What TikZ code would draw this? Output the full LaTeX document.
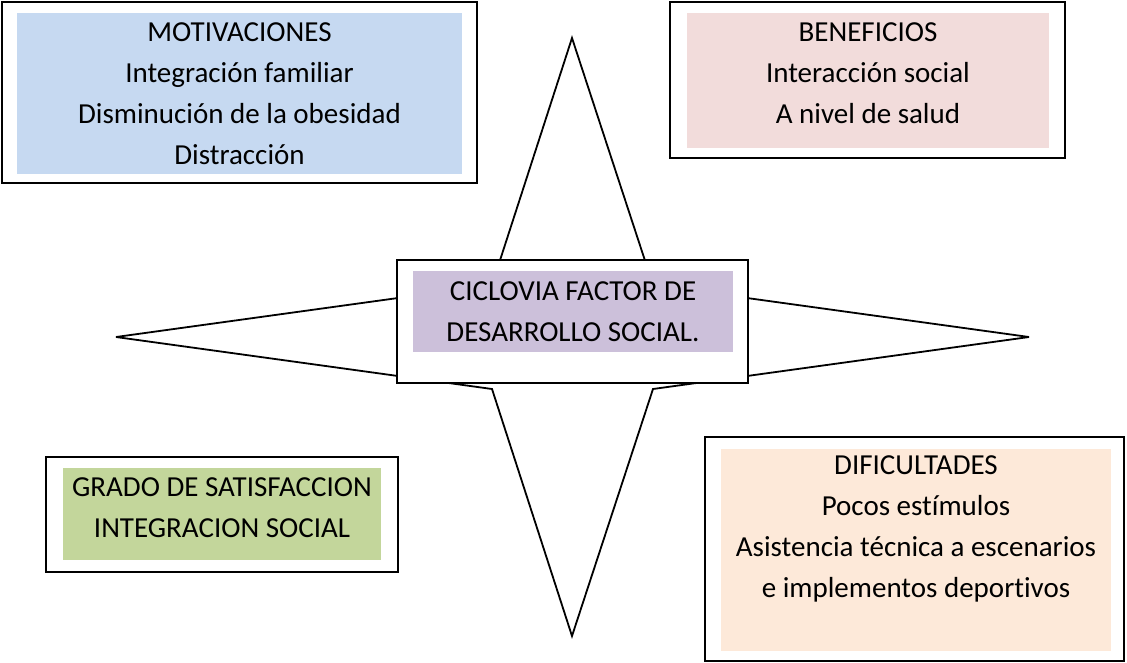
\documentclass[tikz,border=0pt]{standalone}
\usepackage{fontspec}
\setmainfont{Carlito}[Ligatures=NoCommon]
\definecolor{cblue}{HTML}{C6D9F1}
\definecolor{cpink}{HTML}{F2DCDB}
\definecolor{clav}{HTML}{CCC0DA}
\definecolor{cgreen}{HTML}{C3D69B}
\definecolor{cpeach}{HTML}{FDE9D9}
\begin{document}
\begin{tikzpicture}[x=1pt,y=-1pt,
  outerbox/.style={draw=black,line width=2.2pt,fill=white,rectangle,inner sep=0pt},
  fillbox/.style={rectangle,inner sep=0pt,draw=none},
  txt/.style={align=center,inner sep=0pt,font=\fontsize{29}{41}\selectfont},
  starline/.style={draw=black,line width=1.8pt,fill=white,line join=miter,miter limit=4}]
\useasboundingbox (0,0) rectangle (1127,662);
% star
\coordinate (sT) at (572,38);
\coordinate (sUR) at (653,285);
\coordinate (sR) at (1029,337);
\coordinate (sLR) at (653,389);
\coordinate (sB) at (572,636);
\coordinate (sLL) at (492,389);
\coordinate (sL) at (116,337);
\coordinate (sUL) at (492,285);
\path[starline] (sT) -- (sUR) -- (sR) -- (sLR) -- (sB) -- (sLL) -- (sL) -- (sUL) -- cycle;
% motivaciones
\node[outerbox,minimum width=475pt,minimum height=181pt] (motO) at (239.5,92.5) {};
\node[fillbox,fill=cblue,minimum width=445pt,minimum height=161pt] (motF) at (239.5,93.5) {};
\node[txt] (motT) at (239.5,94) {MOTIVACIONES\\Integración familiar\\Disminución de la obesidad\\Distracción};
% beneficios
\node[outerbox,minimum width=395pt,minimum height=156pt] (benO) at (867.5,80) {};
\node[fillbox,fill=cpink,minimum width=362pt,minimum height=135pt] (benF) at (868,80.5) {};
\node[txt] (benT) at (868,73.5) {BENEFICIOS\\Interacción social\\A nivel de salud};
% center
\node[outerbox,minimum width=351pt,minimum height=123pt] (cenO) at (572.5,321.5) {};
\node[fillbox,fill=clav,minimum width=320pt,minimum height=81pt] (cenF) at (573,311.5) {};
\node[txt] (cenT) at (573,311.5) {CICLOVIA FACTOR DE\\DESARROLLO SOCIAL.};
% grado
\node[outerbox,minimum width=352pt,minimum height=115pt] (graO) at (222,514.5) {};
\node[fillbox,fill=cgreen,minimum width=318pt,minimum height=92pt] (graF) at (222,514) {};
\node[txt] (graT) at (222,507.5) {GRADO DE SATISFACCION\\INTEGRACION SOCIAL};
% dificultades
\node[outerbox,minimum width=419pt,minimum height=224pt] (difO) at (914.5,549) {};
\node[fillbox,fill=cpeach,minimum width=390pt,minimum height=202pt] (difF) at (916,550) {};
\node[txt] (difT) at (916,529) {DIFICULTADES\\Pocos estímulos\\Asistencia técnica a escenarios\\e implementos deportivos};
\end{tikzpicture}
\end{document}
